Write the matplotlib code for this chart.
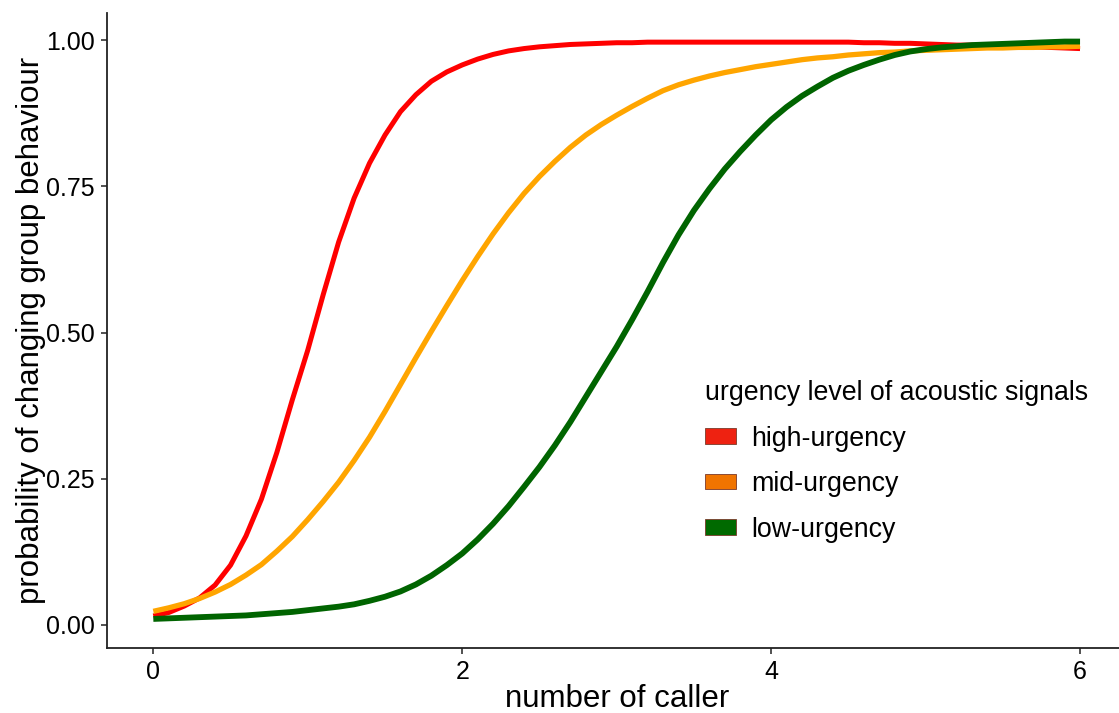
import matplotlib
matplotlib.use("Agg")
import matplotlib.pyplot as plt
from matplotlib.patches import Patch

plt.rcParams['font.family'] = ['Liberation Sans', 'DejaVu Sans']

# number of callers (every 0.1)
callers = [round(0.1 * i, 1) for i in range(61)]

high_urgency = [0.015, 0.021, 0.032, 0.046, 0.068, 0.102, 0.152, 0.215, 0.295, 0.385,
                0.470, 0.565, 0.655, 0.730, 0.790, 0.838, 0.878, 0.907, 0.930, 0.946,
                0.958, 0.968, 0.976, 0.982, 0.986, 0.989, 0.991, 0.993, 0.994, 0.995,
                0.996, 0.996, 0.997, 0.997, 0.997, 0.997, 0.997, 0.997, 0.997, 0.997,
                0.997, 0.997, 0.997, 0.997, 0.997, 0.997, 0.996, 0.996, 0.995, 0.995,
                0.994, 0.993, 0.992, 0.992, 0.991, 0.990, 0.989, 0.989, 0.988, 0.987,
                0.986]
mid_urgency = [0.023, 0.029, 0.036, 0.045, 0.056, 0.069, 0.085, 0.103, 0.126, 0.151,
               0.180, 0.211, 0.244, 0.281, 0.321, 0.365, 0.411, 0.457, 0.502, 0.546,
               0.589, 0.630, 0.669, 0.705, 0.738, 0.767, 0.793, 0.817, 0.838, 0.856,
               0.872, 0.887, 0.901, 0.914, 0.924, 0.932, 0.939, 0.945, 0.950, 0.955,
               0.959, 0.963, 0.967, 0.970, 0.972, 0.975, 0.977, 0.979, 0.980, 0.982,
               0.983, 0.984, 0.985, 0.986, 0.987, 0.987, 0.988, 0.988, 0.989, 0.989,
               0.990]
low_urgency = [0.010, 0.011, 0.012, 0.013, 0.014, 0.015, 0.016, 0.018, 0.020, 0.022,
               0.025, 0.028, 0.031, 0.035, 0.041, 0.048, 0.057, 0.069, 0.084, 0.102,
               0.122, 0.146, 0.173, 0.203, 0.236, 0.270, 0.307, 0.347, 0.390, 0.433,
               0.476, 0.522, 0.570, 0.620, 0.667, 0.709, 0.746, 0.780, 0.810, 0.838,
               0.864, 0.886, 0.905, 0.921, 0.936, 0.948, 0.958, 0.967, 0.975, 0.981,
               0.985, 0.988, 0.990, 0.992, 0.993, 0.994, 0.995, 0.996, 0.997, 0.998,
               0.998]

labels = ['high-urgency', 'mid-urgency', 'low-urgency']
line_colors = ['#FF0000', '#FFA500', '#006400']
key_colors = ['#EE2211', '#F07400', '#006A00']
widths = [3.6, 3.8, 4.2]

fig = plt.figure(figsize=(11.19, 7.13), dpi=100)
ax = fig.add_axes([0.0956, 0.0912, 0.911, 0.891])

for ys, c, w in zip([high_urgency, mid_urgency, low_urgency], line_colors, widths):
    ax.plot(callers, ys, color=c, lw=w, solid_capstyle='butt', solid_joinstyle='round')

ax.set_xlim(-0.3, 6.3)
ax.set_ylim(-0.0397, 1.0474)
ax.set_xticks([0, 2, 4, 6])
ax.set_yticks([0, 0.25, 0.5, 0.75, 1.0])
ax.set_yticklabels(['0.00', '0.25', '0.50', '0.75', '1.00'])

for s in ['top', 'right']:
    ax.spines[s].set_visible(False)
for s in ['left', 'bottom']:
    ax.spines[s].set_linewidth(1.3)
    ax.spines[s].set_color('#222222')
ax.tick_params(length=4, width=1.2, color='#333333', labelsize=18, pad=5,
               labelcolor='black')

ax.set_xlabel('number of caller', fontsize=22.5, labelpad=0)
ax.set_ylabel('probability of changing group behaviour', fontsize=22.5, labelpad=0)

handles = [Patch(facecolor=k, edgecolor='#7a3a2a', linewidth=0.6) for k in key_colors]
leg = fig.legend(handles, labels, title='urgency level of acoustic signals',
                 loc='upper left', bbox_to_anchor=(705 / 1119, 1 - 380 / 713),
                 frameon=False, fontsize=19.3, title_fontsize=19.3,
                 handlelength=1.16, handleheight=0.52, handletextpad=0.56,
                 labelspacing=0.73, alignment='left', borderpad=0, borderaxespad=0)

fig.savefig('out.png', dpi=100)
